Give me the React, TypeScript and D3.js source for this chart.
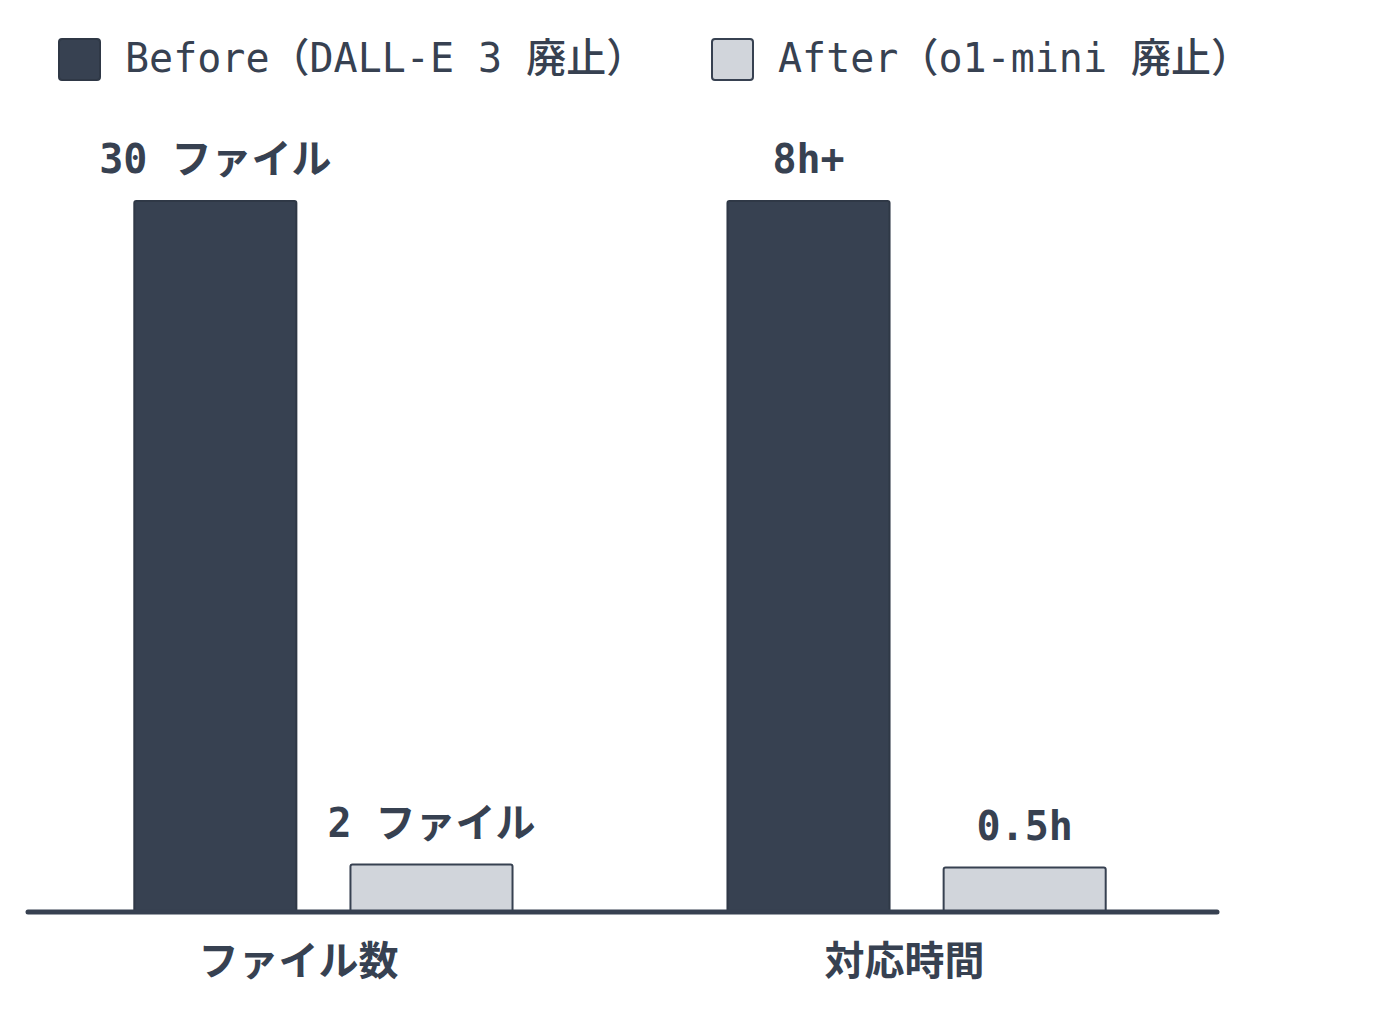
import React from "react";
import * as d3 from "d3";

const categories = ["ファイル数", "対応時間"];
const seriesKeys = ["before", "after"];
const seriesNames = ["Before（DALL-E 3 廃止）", "After（o1-mini 廃止）"];
const beforeValues = [30, 8];
const afterValues = [2, 0.5];
const beforeLabels = ["30 ファイル", "8h+"];
const afterLabels = ["2 ファイル", "0.5h"];

const WIDTH = 1400;
const HEIGHT = 1026;
const BASELINE = 912;
const TOP = 201;
const DARK = "#374151";
const LIGHT = "#d1d5db";
const FONT = "'DejaVu Sans Mono', 'Noto Sans CJK JP', monospace";

const App = () => {
  const x0 = d3.scaleBand().domain(categories).range([20, 1220]).paddingInner(0.359).paddingOuter(0.191);
  const x1 = d3.scaleBand().domain(seriesKeys).range([0, x0.bandwidth()]).paddingInner(0.241).paddingOuter(0);

  const colors = [DARK, LIGHT];
  const strokes = ["#2f3846", DARK];

  return (
    <div style={{ position: "absolute", left: 0, top: 0 }}>
      <svg width={WIDTH} height={HEIGHT} style={{ display: "block", background: "#fff" }}>
        {/* legend */}
        {seriesNames.map((name, i) => {
          const lx = i === 0 ? 58 : 711;
          return (
            <g key={name} transform={`translate(${lx}, 38)`}>
              <rect x={1} y={1} width={41} height={41} rx={3} fill={colors[i]} stroke={strokes[i]} strokeWidth={2} />
              <text x={67} y={34} fill={DARK} fontSize={40} fontFamily={FONT} fontWeight={500}>
                {name}
              </text>
            </g>
          );
        })}

        {categories.map((cat, ci) => {
          const values = [beforeValues[ci], afterValues[ci]];
          const labels = [beforeLabels[ci], afterLabels[ci]];
          const y = d3.scaleLinear().domain([0, d3.max(values)!]).range([BASELINE, TOP]);
          const gx = x0(cat)!;
          return (
            <g key={cat} transform={`translate(${gx}, 0)`}>
              {seriesKeys.map((k, si) => {
                const bx = x1(k)!;
                const by = y(values[si]);
                return (
                  <g key={k}>
                    <rect
                      x={bx + 1}
                      y={by}
                      width={x1.bandwidth() - 2}
                      height={BASELINE - by}
                      rx={2}
                      fill={colors[si]}
                      stroke={strokes[si]}
                      strokeWidth={2}
                    />
                    <text
                      x={bx + x1.bandwidth() / 2}
                      y={by - 28}
                      textAnchor="middle"
                      fill={DARK}
                      fontSize={40}
                      fontFamily={FONT}
                      fontWeight={600}
                    >
                      {labels[si]}
                    </text>
                  </g>
                );
              })}
              <text
                x={x0.bandwidth() / 2 - (ci === 0 ? 25 : 12)}
                y={975}
                textAnchor="middle"
                fill={DARK}
                fontSize={40}
                fontFamily={FONT}
                fontWeight={600}
              >
                {cat}
              </text>
            </g>
          );
        })}

        <line x1={28} x2={1217} y1={BASELINE} y2={BASELINE} stroke={DARK} strokeWidth={5} strokeLinecap="round" />
      </svg>
    </div>
  );
};

export default App;
